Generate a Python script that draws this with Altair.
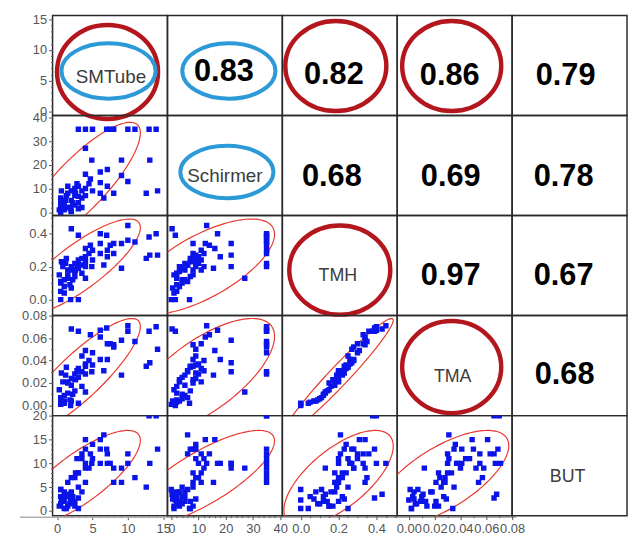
import math
import numpy as np
import pandas as pd
import altair as alt

# ---------------- data ----------------
variables = ["SMTube", "Schirmer", "TMH", "TMA", "BUT"]

smtube = [3.0, 4.0, 5.0, 7.0, 7.5, 8.0, 10.0, 11.0, 13.0, 14.0,
          13.1, 14.2, 12.6, 4.0, 4.9, 9.1, 6.1, 7.1, 4.0, 9.1,
          10.0, 4.7, 6.1, 7.1, 6.1, 6.6, 8.0, 2.0, 3.0, 0.5,
          1.9, 3.0, 0.5, 0.5, 1.0, 1.0, 1.5, 1.5, 2.0, 2.0,
          2.5, 2.5, 2.5, 3.0, 3.0, 3.5, 3.5, 4.0, 4.0, 4.5,
          5.0, 1.0, 2.0, 0.5, 3.5, 2.8, 1.5, 0.3, 0.8, 1.2,
          1.8, 2.2, 1.3, 2.6, 0.6]
schirmer = [35, 35, 35, 35, 35, 35, 35, 35, 35, 35,
            22, 9, 8, 27, 22, 22, 17, 18, 16, 15.5,
            13, 14, 12.5, 11, 8, 6, 8, 0.3, 1.5, 0.0,
            1.5, 6.7, 2, 4, 3, 5, 8, 2, 5, 9,
            7, 10, 3, 4, 11, 6, 9, 7, 10, 12,
            9, 1, 0.5, 6, 2, 12, 11, 1, 3, 5,
            2, 4, 7, 8, 9]
tmh = [0.22, 0.20, 0.30, 0.39, 0.33, 0.28, 0.36, 0.35, 0.38, 0.40,
       0.27, 0.27, 0.25, 0.13, 0.20, 0.34, 0.40, 0.26, 0.31, 0.19,
       0.45, 0.33, 0.34, 0.30, 0.28, 0.21, 0.34, 0.43, 0.39, 0.00,
       0.00, 0.00, 0.05, 0.10, 0.08, 0.12, 0.15, 0.13, 0.18, 0.20,
       0.14, 0.22, 0.17, 0.19, 0.24, 0.21, 0.25, 0.23, 0.26, 0.28,
       0.24, 0.04, 0.07, 0.11, 0.16, 0.20, 0.18, 0.15, 0.20, 0.22,
       0.09, 0.12, 0.25, 0.18, 0.23]
tma = [0.030, 0.028, 0.047, 0.069, 0.055, 0.052, 0.066, 0.057, 0.066, 0.070,
       0.038, 0.050, 0.035, 0.012, 0.030, 0.058, 0.067, 0.041, 0.049, 0.027,
       0.071, 0.063, 0.061, 0.055, 0.041, 0.031, 0.054, 0.068, 0.066, 0.001,
       0.000, 0.002, 0.003, 0.006, 0.004, 0.009, 0.020, 0.011, 0.018, 0.024,
       0.013, 0.028, 0.023, 0.025, 0.033, 0.030, 0.044, 0.035, 0.037, 0.040,
       0.036, 0.002, 0.004, 0.007, 0.017, 0.031, 0.021, 0.014, 0.021, 0.027,
       0.005, 0.010, 0.034, 0.023, 0.029]
but = [8, 6, 11, 13, 10, 9, 12, 7, 20, 20,
       10, 13, 5, 9, 10, 9, 10, 10, 15, 6,
       10, 12, 15, 12, 13, 16, 6, 3.5, 2.7, 4.5,
       2.3, 0.5, 3, 1.5, 4, 2, 1, 3.5, 4, 7,
       2, 7, 1, 5, 8, 12, 11, 13, 10, 9,
       14, 0.5, 2.5, 4.5, 4, 11, 6, 1, 2, 3,
       1.5, 3, 0.5, 8, 2.5]

# correlation coefficients printed in the upper triangle
corr = [[1.00, 0.83, 0.82, 0.86, 0.79],
        [0.83, 1.00, 0.68, 0.69, 0.78],
        [0.82, 0.68, 1.00, 0.97, 0.67],
        [0.86, 0.69, 0.97, 1.00, 0.68],
        [0.79, 0.78, 0.67, 0.68, 1.00]]

# means and standard deviations behind the 95% density ellipses
ell_mean = [3.2, 11.5, 0.20, 0.026, 6.9]
ell_sd = [3.5, 10.8, 0.118, 0.021, 4.1]

# axis ranges, tick marks and tick labels
domains = [[-0.65, 15.6], [-1.4, 40.8], [-0.097, 0.51], [-0.009, 0.080], [-1.0, 20.05]]
major_ticks = [[0, 5, 10, 15],
               [0, 10, 20, 30, 40],
               [0.0, 0.2, 0.4],
               [0.0, 0.02, 0.04, 0.06, 0.08],
               [0, 5, 10, 15, 20]]
minor_ticks = [[0, 1, 2, 3, 4, 5, 6, 7, 8, 9, 10, 11, 12, 13, 14, 15],
               [0, 2, 4, 6, 8, 10, 12, 14, 16, 18, 20, 22, 24, 26, 28, 30, 32, 34, 36, 38, 40],
               [0.0, 0.05, 0.1, 0.15, 0.2, 0.25, 0.3, 0.35, 0.4, 0.45, 0.5],
               [0.0, 0.01, 0.02, 0.03, 0.04, 0.05, 0.06, 0.07, 0.08],
               [0, 1, 2, 3, 4, 5, 6, 7, 8, 9, 10, 11, 12, 13, 14, 15, 16, 17, 18, 19, 20]]
formats = ["d", "d", ".1f", ".2f", "d"]

df = pd.DataFrame({"SMTube": smtube, "Schirmer": schirmer, "TMH": tmh,
                   "TMA": tma, "BUT": but})

# ---------------- styling ----------------
W, H = 116, 101
RED = "#b3161d"
BLUE = "#2d9ad8"
FONT = "Liberation Sans, Arial, sans-serif"

# hand-drawn annotation ellipses: (row, col) -> list of (cx, cy, w, h, color)
annot = {
    (0, 0): [(55.5, 57, 102, 95, RED), (56.5, 56, 95, 56, BLUE)],
    (0, 1): [(62, 56, 94, 56, BLUE)],
    (0, 2): [(54, 51, 102, 91, RED)],
    (0, 3): [(55, 51, 100, 91, RED)],
    (1, 1): [(60, 57, 94, 53, BLUE)],
    (2, 2): [(58, 55, 102, 90, RED)],
    (3, 3): [(55, 52, 100, 93, RED)],
}
# text position inside each cell
text_pos = {
    (0, 0): (59, 62), (0, 1): (57, 57), (0, 2): (52, 60), (0, 3): (53, 61), (0, 4): (54, 61),
    (1, 1): (58, 61), (1, 2): (50, 62), (1, 3): (54, 62), (1, 4): (52, 62),
    (2, 2): (56, 61), (2, 3): (54, 61), (2, 4): (52, 61),
    (3, 3): (56, 62), (3, 4): (53, 60),
    (4, 4): (56, 62),
}
name_size = [19, 19, 18, 18, 18]


def ellipse_path(ratio):
    k = 0.5523
    h = ratio
    return (f"M -1 0 C -1 {-k*h:.4f} {-k:.4f} {-h:.4f} 0 {-h:.4f} "
            f"C {k:.4f} {-h:.4f} 1 {-k*h:.4f} 1 0 "
            f"C 1 {k*h:.4f} {k:.4f} {h:.4f} 0 {h:.4f} "
            f"C {-k:.4f} {h:.4f} -1 {k*h:.4f} -1 0 Z")


def make_axis(v, orient):
    major = str(major_ticks[v])
    return alt.Axis(
        values=minor_ticks[v], format=formats[v], title=None, domain=False, grid=False,
        labelExpr=f"indexof({major}, datum.value) >= 0 ? datum.label : ''",
        tickSize={"condition": {"test": f"indexof({major}, datum.value) >= 0", "value": 4}, "value": 2},
        labelFlush=False, labelOverlap=False, labelPadding=2 if orient == "y" else 3,
        labelFont=FONT, labelFontSize=13, labelColor="#555555",
        tickColor="#555555", tickWidth=1)


def scale(v):
    return alt.Scale(domain=domains[v], nice=False, zero=False)


def ellipse_df(j, i):
    xv, yv = variables[j], variables[i]
    r = corr[i][j]
    c = math.sqrt(5.991)
    t = np.linspace(0, 2 * np.pi, 145)
    ex = ell_mean[j] + c * ell_sd[j] * np.cos(t)
    ey = ell_mean[i] + c * ell_sd[i] * (r * np.cos(t) + math.sqrt(1 - r * r) * np.sin(t))
    return pd.DataFrame({xv: ex, yv: ey, "k": np.arange(len(t))})


def text_cell(i, j):
    layers = []
    if i == j and j == 0:
        layers.append(alt.Chart(df).mark_point(opacity=0).encode(
            y=alt.Y(f"{variables[i]}:Q", scale=scale(i), axis=make_axis(i, "y"))))
    for (cx, cy, w, h, col) in annot.get((i, j), []):
        layers.append(alt.Chart(pd.DataFrame({"a": [0]})).mark_point(
            shape=ellipse_path(h / w), size=w * w, filled=False, stroke=col,
            strokeWidth=4.5 if col == RED else 4, opacity=1).encode(
            x=alt.value(cx), y=alt.value(cy)))
    tx, ty = text_pos[(i, j)]
    if i == j:
        label = variables[i]
        mk = alt.Chart(pd.DataFrame({"label": [label]})).mark_text(
            font=FONT, fontSize=name_size[i], color="#3c3c3c", align="center", baseline="middle")
    else:
        label = f"{corr[i][j]:.2f}"
        mk = alt.Chart(pd.DataFrame({"label": [label]})).mark_text(
            font=FONT, fontSize=31, fontWeight="bold", color="#000000", align="center", baseline="middle")
    layers.append(mk.encode(text="label:N", x=alt.value(tx), y=alt.value(ty)))
    return alt.layer(*layers).properties(width=W, height=H)


def scatter_cell(i, j):
    xv, yv = variables[j], variables[i]
    x = alt.X(f"{xv}:Q", scale=scale(j), axis=make_axis(j, "x") if i == 4 else None)
    y = alt.Y(f"{yv}:Q", scale=scale(i), axis=make_axis(i, "y") if j == 0 else None)
    line = alt.Chart(ellipse_df(j, i)).mark_line(
        color="#e8392f", strokeWidth=1.2, clip=True).encode(x=x, y=y, order="k:Q")
    pts = alt.Chart(df).mark_square(size=30, color="#0b14e8", opacity=1, clip=True).encode(x=x, y=y)
    layers = [line, pts]
    if i == 4 and j == 0:
        # light grey base line under the bottom row of panels
        layers.append(alt.Chart(pd.DataFrame({"a": [0]})).mark_rule(
            color="#b0b0b0", strokeWidth=1.5).encode(
            x=alt.value(-33), x2=alt.value(4 * W + 4), y=alt.value(H + 1.5)))
    return alt.layer(*layers).properties(width=W, height=H)


cells = []
for i in range(5):
    for j in range(5):
        cells.append(scatter_cell(i, j) if i > j else text_cell(i, j))

chart = (alt.concat(*cells, columns=5, spacing=0, bounds="flush")
         .resolve_scale(x="independent", y="independent")
         .properties(padding={"left": 10, "top": 0, "right": 0, "bottom": 0}, background="white")
         .configure_view(stroke="#2a2a2a", strokeWidth=1.5))

chart.save("out.html", embed_options={"renderer": "svg", "actions": False})
